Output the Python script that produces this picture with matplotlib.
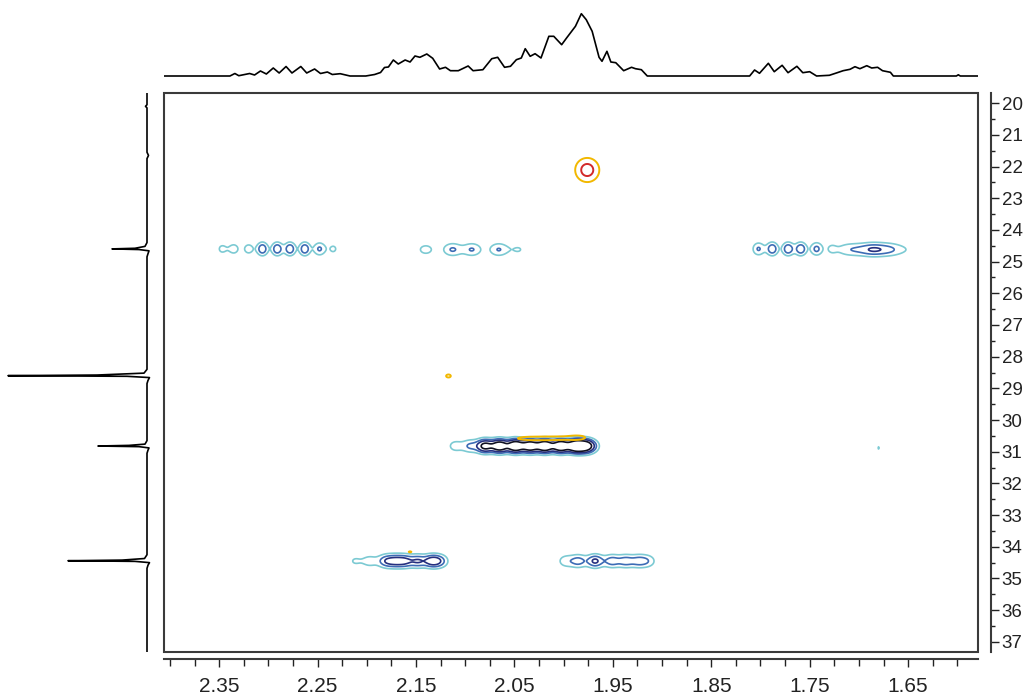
"""
HSQC style contour plot with 1D projections on top and left.
"""

import matplotlib
matplotlib.use('Agg')

import matplotlib.pyplot as plt
from matplotlib.patches import Rectangle
from matplotlib.ticker import FixedLocator, MultipleLocator
import numpy as np


# proton projection (top): ppm, intensity
top_ppm = [2.409, 2.339, 2.334, 2.330, 2.319, 2.314, 2.308, 2.302, 2.295, 2.289,
           2.282, 2.276, 2.267, 2.261, 2.253, 2.247, 2.240, 2.235, 2.227, 2.217,
           2.201, 2.192, 2.186, 2.182, 2.178, 2.173, 2.168, 2.161, 2.156, 2.151,
           2.146, 2.139, 2.133, 2.126, 2.120, 2.115, 2.107, 2.097, 2.092, 2.082,
           2.073, 2.067, 2.060, 2.054, 2.048, 2.043, 2.039, 2.034, 2.029, 2.023,
           2.015, 2.010, 2.002, 1.997, 1.988, 1.982, 1.977, 1.971, 1.964, 1.961,
           1.956, 1.952, 1.947, 1.939, 1.931, 1.927, 1.921, 1.915, 1.811, 1.806,
           1.801, 1.792, 1.786, 1.778, 1.772, 1.763, 1.757, 1.750, 1.743, 1.730,
           1.722, 1.716, 1.709, 1.704, 1.699, 1.692, 1.687, 1.681, 1.676, 1.668,
           1.665, 1.601, 1.599, 1.597, 1.577]
top_int = [0, 0, 2.5, 0.3, 2.5, 1, 5, 2, 8, 3,
           9.5, 3, 9.5, 3, 7, 2.5, 4, 1.5, 2.3, 0,
           0, 1.5, 3.5, 8.5, 9, 16, 12, 16, 14, 20,
           18.7, 22, 17.7, 7, 8.7, 5.3, 5.3, 10, 5.3, 6.3,
           17.3, 18.7, 8.7, 9.7, 16.3, 18, 27.3, 19.7, 22.3, 18,
           39.7, 39.7, 31.3, 38, 49.7, 62.3, 56.3, 44.7, 18.7, 14.7,
           24.7, 14, 13.3, 5.3, 8.7, 7.3, 6.3, 0, 0, 6,
           2.7, 12.7, 4.3, 10.7, 3.3, 9.7, 3.3, 4.3, 0, 0.7,
           3.3, 5.3, 6.7, 9.3, 7.3, 10.3, 8, 8.7, 5.3, 3.7,
           0, 0, 1.2, 0, 0]

# carbon projection (left): ppm, intensity
side_ppm = [19.68, 20.05, 20.10, 20.15, 21.55, 21.65, 21.75,
            24.40, 24.52, 24.58, 24.60, 24.62, 24.66, 24.75, 24.85,
            28.40, 28.52, 28.58, 28.60, 28.62, 28.66, 28.75, 28.85,
            30.65, 30.76, 30.80, 30.82, 30.84, 30.88, 30.95, 31.05,
            34.25, 34.37, 34.42, 34.44, 34.46, 34.50, 34.58, 34.68, 37.32]
side_int = [0, 0, 1.5, 0, 0, -1.5, 0,
            0, 2, 12, 35, 8, -2, -1, 0,
            0, 3, 50, 139, 20, -2.5, -1, 0,
            0, 2, 18, 49, 8, -2, -1, 0,
            0, 2.5, 25, 79, 12, -2.5, -1, 0, 0]

# cross peaks, main spectrum: 1H ppm, 13C ppm, height, 1H width
blue_h = [2.347, 2.335, 2.320, 2.306, 2.291, 2.278, 2.263, 2.248, 2.234,
          2.140, 2.113, 2.093, 2.066, 2.046,
          1.802, 1.788, 1.772, 1.759, 1.743, 1.728,
          1.714, 1.702, 1.690, 1.684, 1.674, 1.664, 1.650,
          2.110, 2.095, 2.080, 2.065, 2.049, 2.034, 2.019, 2.003, 1.988, 1.978, 1.971,
          2.212, 2.197, 2.181, 2.171, 2.161, 2.148, 2.134, 2.125,
          1.998, 1.985, 1.968, 1.951, 1.937, 1.924, 1.914,
          1.680]
blue_c = [24.60] * 9 + [24.62] * 5 + [24.60] * 6 + [24.62] * 7 \
    + [30.82] * 11 + [34.45] * 8 + [34.45] * 7 + [30.88]
blue_amp = [1.2, 1.4, 1.4, 2.85, 2.85, 2.85, 2.85, 2.15, 1.15,
            1.35, 2.1, 2.05, 2.05, 1.04,
            2.1, 2.85, 2.85, 2.85, 2.3, 1.04,
            1.2, 1.3, 1.3, 1.45, 1.4, 1.15, 0.6,
            1.4, 2.0, 5.0, 6.0, 6.5, 6.0, 6.5, 6.5, 6.5, 5.0, 1.5,
            1.05, 1.4, 2.4, 2.7, 2.7, 2.7, 3.2, 2.0,
            1.5, 2.3, 3.2, 2.4, 2.3, 2.1, 1.5,
            1.03]
blue_wh = [0.0045, 0.0045, 0.0045, 0.004, 0.004, 0.004, 0.004, 0.0045, 0.0045] \
    + [0.007] * 5 + [0.0045, 0.0042, 0.0042, 0.0042, 0.0045, 0.0045] \
    + [0.008] * 7 + [0.006] * 11 + [0.006] * 15 + [0.002]

# cross peaks, overlaid spectrum
gold_h = [1.976, 2.117, 2.040, 2.020, 2.000, 1.985, 2.156]
gold_c = [22.11, 28.61, 30.58, 30.58, 30.57, 30.55, 34.16]
gold_amp = [2.52, 1.12, 1.05, 1.05, 1.07, 1.15, 1.06]
gold_wh = [0.009, 0.005, 0.012, 0.012, 0.012, 0.008, 0.004]
gold_wc = [0.28, 0.10, 0.06, 0.06, 0.06, 0.07, 0.05]

blue_levels = [1, 2, 3, 4.5]
blue_colors = ['#7ccad3', '#3d6cb5', '#26307f', '#111122']
gold_levels = [1, 2]
gold_colors = ['#f2b800', '#d22a2a']

xlabels = [2.35, 2.25, 2.15, 2.05, 1.95, 1.85, 1.75, 1.65]
ylabels = list(range(20, 38))

XLIM = (2.406, 1.579)
YLIM = (37.32, 19.68)


def _field(gx, gy, hs, cs, amps, whs, wcs):
    z = np.zeros_like(gx)
    for h, c, a, wh, wc in zip(hs, cs, amps, whs, wcs):
        z += a * np.exp(-((gx - h) / wh) ** 2 / 2 - ((gy - c) / wc) ** 2 / 2)
    return z


def make_plot():
    W, H = 1024, 697
    fig = plt.figure(figsize=(W / 100, H / 100), dpi=100)

    ax = fig.add_axes([164 / W, 1 - 652 / H, 814 / W, 559 / H])
    top = fig.add_axes([164 / W, 1 - 80 / H, 814 / W, 72 / H])
    side = fig.add_axes([0, 1 - 652 / H, 160 / W, 559 / H])

    # Contours
    gx, gy = np.meshgrid(np.linspace(XLIM[1], XLIM[0], 1400),
                         np.linspace(YLIM[1], YLIM[0], 1000))
    zb = _field(gx, gy, blue_h, blue_c, blue_amp, blue_wh, [0.15] * len(blue_h))
    zg = _field(gx, gy, gold_h, gold_c, gold_amp, gold_wh, gold_wc)
    ax.contour(gx, gy, zb, levels=blue_levels, colors=blue_colors, linewidths=1.2)
    ax.contour(gx, gy, zg, levels=gold_levels, colors=gold_colors, linewidths=1.4)

    ax.set_xlim(*XLIM)
    ax.set_ylim(*YLIM)

    # Frame and detached axes
    ax.add_patch(Rectangle((0, 0), 1, 1, transform=ax.transAxes, fill=False,
                           lw=1.5, ec='#3a3a3a', clip_on=False, zorder=5))
    for s in ('left', 'top'):
        ax.spines[s].set_visible(False)
    ax.spines['right'].set_position(('outward', 9))
    ax.spines['bottom'].set_position(('outward', 5))
    for s in ('right', 'bottom'):
        ax.spines[s].set_color('#3a3a3a')
        ax.spines[s].set_linewidth(1.5)

    ax.yaxis.tick_right()
    ax.yaxis.set_major_locator(FixedLocator(ylabels))
    ax.yaxis.set_minor_locator(MultipleLocator(0.5))
    ax.set_yticklabels([str(v) for v in ylabels], fontsize=13.5,
                       family=['Liberation Sans', 'DejaVu Sans'])
    ax.tick_params(axis='y', which='major', length=6, width=1, pad=2, colors='#222')
    ax.tick_params(axis='y', which='minor', length=3, width=1, colors='#222')

    ax.xaxis.set_major_locator(FixedLocator(xlabels))
    ax.xaxis.set_minor_locator(MultipleLocator(0.025))
    ax.set_xticklabels(['%.2f' % v for v in xlabels], fontsize=15,
                       family=['Liberation Sans', 'DejaVu Sans'])
    ax.tick_params(axis='x', which='major', length=6, width=1, pad=7, colors='#222')
    ax.tick_params(axis='x', which='minor', length=5, width=1, colors='#222')

    # Top projection
    top.plot(top_ppm, top_int, color='black', lw=1.2)
    top.set_xlim(*XLIM)
    top.set_ylim(-4, 68)
    top.axis('off')

    # Left projection
    side.plot(side_int, side_ppm, color='black', lw=1.2)
    side.set_xlim(147, -13)
    side.set_ylim(*YLIM)
    side.axis('off')

    return fig


def save_plot(figure):
    figure.savefig('out.png', dpi=100)


if __name__ == '__main__':
    save_plot(make_plot())
